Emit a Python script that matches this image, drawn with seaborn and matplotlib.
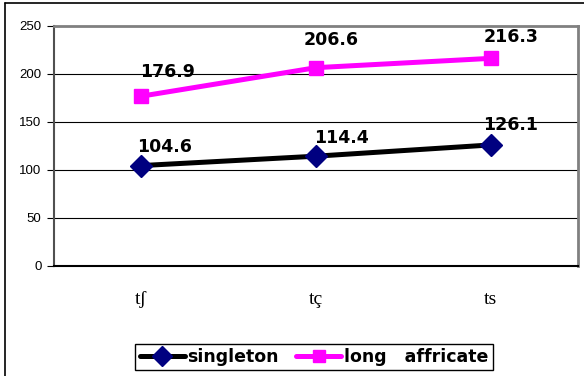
import matplotlib
matplotlib.use("Agg")
import matplotlib.pyplot as plt
import seaborn as sns
import pandas as pd
from matplotlib.lines import Line2D

categories = ["tʃ", "tç", "ts"]
singleton = [104.6, 114.4, 126.1]
long_affricate = [176.9, 206.6, 216.3]
series_names = ["singleton", "long   affricate"]
y_ticks = [0, 50, 100, 150, 200, 250]

df = pd.DataFrame({
    "cat": list(range(len(categories))) * 2,
    "value": singleton + long_affricate,
    "series": [series_names[0]] * 3 + [series_names[1]] * 3,
})

sns.set_style("white")
plt.rcParams["font.family"] = ["Liberation Sans", "DejaVu Sans"]
plt.rcParams["text.color"] = "black"
plt.rcParams["xtick.color"] = "black"
plt.rcParams["ytick.color"] = "black"
plt.rcParams["xtick.labelcolor"] = "black"
plt.rcParams["ytick.labelcolor"] = "black"

fig = plt.figure(figsize=(5.84, 3.76), dpi=100)
ax = fig.add_axes([54 / 584, 1 - 266 / 376, (578 - 54) / 584, (266 - 26) / 376])

palette = {series_names[0]: "black", series_names[1]: "#FF00FF"}
sns.lineplot(data=df, x="cat", y="value", hue="series", palette=palette,
             linewidth=3.6, legend=False, ax=ax, zorder=3)

marker_specs = [("D", "#000080", 11.5), ("s", "#FF00FF", 10)]
for vals, (m, c, ms) in zip([singleton, long_affricate], marker_specs):
    ax.plot(range(3), vals, linestyle="none", marker=m, color=c,
            markersize=ms, markeredgecolor=c, zorder=4)

# data label offsets in pixels (dx, dy above marker)
label_offsets = [[(23, 19), (25, 18), (20, 20)], [(26, 24), (15, 28), (20, 21)]]
px = 72 / 100
for vals, offs in zip([singleton, long_affricate], label_offsets):
    for i, v in enumerate(vals):
        dx, dy = offs[i]
        ax.annotate(f"{v:.1f}", (i, v), xytext=(dx * px, dy * px), textcoords="offset points",
                    ha="center", va="center", fontsize=12.5, fontweight="bold",
                    family=["DejaVu Sans"], color="black", zorder=5)

ax.set_xlim(-0.5, 2.5)
ax.set_ylim(0, 250)
ax.set_yticks(y_ticks)
ax.set_yticklabels([str(t) for t in y_ticks], fontsize=9.5, color="black")
ax.set_xticks(range(3))
ax.set_xticklabels(categories, fontsize=14, family=["Liberation Serif", "DejaVu Serif"],
                   color="black")
ax.set_xticks([-0.5, 0.5, 1.5, 2.5], minor=True)
ax.tick_params(axis="x", which="major", length=0, pad=18)
ax.tick_params(axis="x", which="minor", length=5, width=0.8, color="black", direction="out")
ax.tick_params(axis="y", length=5, width=0.8, color="black", direction="out", left=True, pad=4)
ax.set_xlabel("")
ax.set_ylabel("")

for t in [50, 100, 150, 200]:
    ax.axhline(t, color="black", linewidth=0.8, zorder=1)

for s in ["top", "right"]:
    ax.spines[s].set_color("#808080")
    ax.spines[s].set_linewidth(2)
ax.spines["left"].set_color("#505050")
ax.spines["left"].set_linewidth(1.5)
ax.spines["bottom"].set_color("black")
ax.spines["bottom"].set_linewidth(1.5)

handles = [
    Line2D([], [], color="black", linewidth=3.6, marker="D", markersize=10,
           markerfacecolor="#000080", markeredgecolor="#000080"),
    Line2D([], [], color="#FF00FF", linewidth=3.6, marker="s", markersize=9,
           markerfacecolor="#FF00FF", markeredgecolor="#FF00FF"),
]
leg = fig.legend(handles, series_names, loc="center", bbox_to_anchor=(314 / 584, 1 - 357 / 376),
                 ncol=2, frameon=True, fancybox=False, framealpha=1, edgecolor="black",
                 prop={"weight": "bold", "size": 12.5, "family": "DejaVu Sans"},
                 handlelength=2.6, handletextpad=0.15, columnspacing=1.0,
                 borderpad=0.25, borderaxespad=0)
leg.get_frame().set_linewidth(1)
for t in leg.get_texts():
    t.set_color("black")

# outer frame lines
fig.add_artist(Line2D([5 / 584, 5 / 584], [0, 1 - 3 / 376], color="black", linewidth=1.2,
                      transform=fig.transFigure))
fig.add_artist(Line2D([5 / 584, 1], [1 - 3 / 376, 1 - 3 / 376], color="black", linewidth=1.2,
                      transform=fig.transFigure))

fig.savefig("out.png", dpi=100)
